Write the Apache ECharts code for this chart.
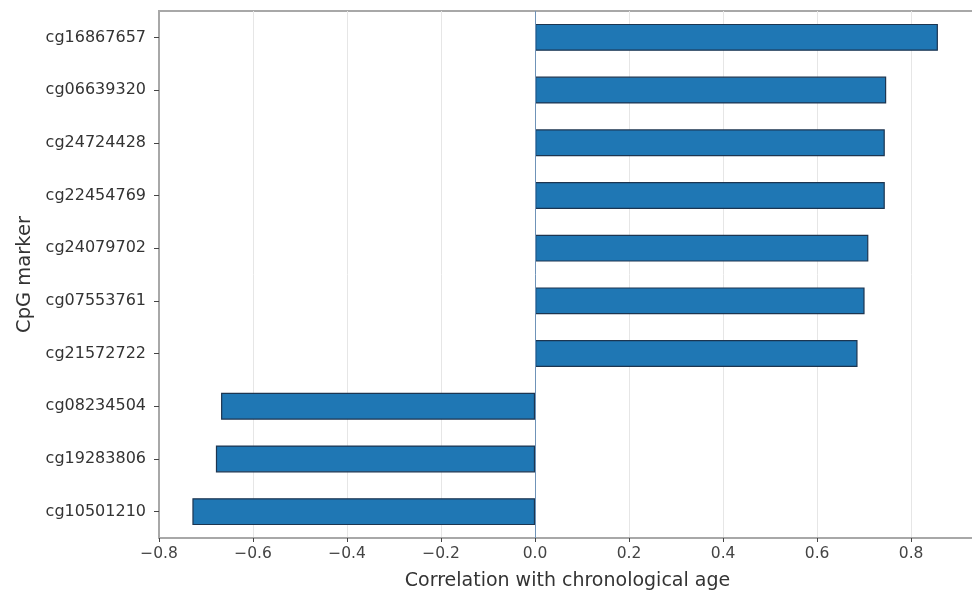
<!DOCTYPE html>
<html>
<head>
<meta charset="utf-8">
<script src="https://cdn.jsdelivr.net/npm/echarts@6/dist/echarts.min.js"></script>
<style>
html,body{margin:0;padding:0;background:#fff;}
#chart{width:972px;height:598px;}
</style>
</head>
<body>
<div id="chart"></div>
<script>
const categories = ["cg16867657","cg06639320","cg24724428","cg22454769","cg24079702","cg07553761","cg21572722","cg08234504","cg19283806","cg10501210"];
const correlations = [0.857, 0.747, 0.744, 0.744, 0.709, 0.701, 0.686, -0.668, -0.679, -0.729];
const xTicks = [-0.8, -0.6, -0.4, -0.2, 0.0, 0.2, 0.4, 0.6, 0.8];
const xTitle = "Correlation with chronological age";
const yTitle = "CpG marker";

const chart = echarts.init(document.getElementById('chart'), null, {renderer: 'canvas'});
const font = 'DejaVu Sans';
chart.setOption({
  animation: false,
  backgroundColor: '#ffffff',
  grid: {left: 159, top: 11, width: 817, height: 527, containLabel: false, outerBoundsMode: 'none'},
  xAxis: {
    type: 'value',
    min: -0.8,
    max: 0.938,
    interval: 0.2,
    name: xTitle,
    nameLocation: 'middle',
    nameGap: 34,
    nameTextStyle: {fontFamily: font, fontSize: 19, color: '#333'},
    axisLine: {show: true, onZero: false, lineStyle: {color: '#a8a8a8', width: 2}},
    axisTick: {show: true, length: 4, lineStyle: {color: '#444', width: 1}},
    axisLabel: {
      fontFamily: font, fontSize: 15.5, color: '#444', margin: 8,
      showMaxLabel: false,
      formatter: v => {
        const r = Math.round(v * 10) / 10;
        if (!xTicks.some(t => Math.abs(t - r) < 1e-9)) return '';
        return (r < 0 ? '\u2212' : '') + Math.abs(r).toFixed(1);
      }
    },
    splitLine: {show: true, lineStyle: {color: '#e6e6e6', width: 1}}
  },
  yAxis: {
    type: 'category',
    data: categories,
    inverse: true,
    name: yTitle,
    nameLocation: 'middle',
    nameGap: 124,
    nameTextStyle: {fontFamily: font, fontSize: 19.5, color: '#333'},
    axisLine: {show: true, onZero: false, lineStyle: {color: '#a8a8a8', width: 2}},
    axisTick: {show: true, alignWithLabel: true, length: 5, lineStyle: {color: '#444'}},
    axisLabel: {fontFamily: font, fontSize: 16, color: '#333', margin: 13},
    splitLine: {show: false}
  },
  series: [{
    type: 'bar',
    data: correlations,
    barWidth: '51%',
    itemStyle: {color: '#1f77b4', borderColor: '#1c3550', borderWidth: 1.2},
    markLine: {
      symbol: 'none',
      silent: true,
      label: {show: false},
      lineStyle: {color: '#6f93b8', width: 1, type: 'solid'},
      data: [{xAxis: 0}]
    }
  }],
  graphic: [{
    type: 'line',
    shape: {x1: 158, y1: 11, x2: 972, y2: 11},
    style: {stroke: '#a8a8a8', lineWidth: 2}
  }]
});
</script>
</body>
</html>
